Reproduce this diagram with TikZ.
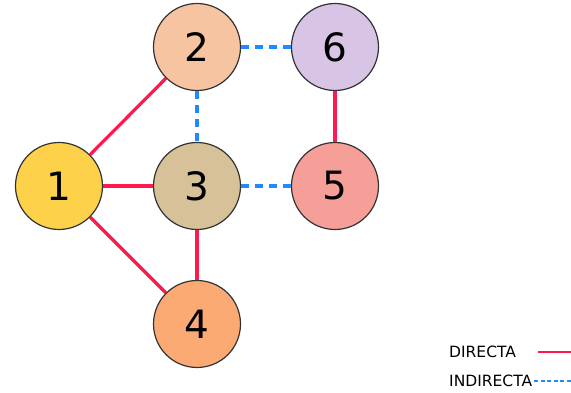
\documentclass[tikz,border=0pt]{standalone}
\usepackage{fontspec}
\setmainfont{DejaVu Sans}
\begin{document}
\begin{tikzpicture}[x=1pt,y=-1pt,
  vert/.style={circle,draw=black!80,line width=1.2pt,minimum size=87pt,inner sep=0pt,font=\fontsize{39}{40}\selectfont},
  dir/.style={draw=dirc,line width=3.2pt},
  ind/.style={draw=indc,line width=3.2pt,dash pattern=on 8pt off 6pt},
  leg/.style={font=\fontsize{15.5}{16}\selectfont,anchor=west,inner sep=0pt}]
\definecolor{dirc}{HTML}{FF1A4E}
\definecolor{indc}{HTML}{1E8CFF}
\useasboundingbox (0,0) rectangle (571,393);
\node[vert,fill={rgb,255:red,253;green,209;blue,74}] (n1) at (59,186) {1};
\node[vert,fill={rgb,255:red,247;green,196;blue,161}] (n2) at (197,47) {2};
\node[vert,fill={rgb,255:red,216;green,196;blue,228}] (n6) at (335,47) {6};
\node[vert,fill={rgb,255:red,214;green,193;blue,152}] (n3) at (197,186) {3};
\node[vert,fill={rgb,255:red,246;green,159;blue,153}] (n5) at (335,186) {5};
\node[vert,fill={rgb,255:red,251;green,170;blue,115}] (n4) at (197,324) {4};
\path[dir] (n1) -- (n2);
\path[dir,line width=3.8pt] (n1) -- (n3);
\path[dir] (n1) -- (n4);
\path[dir] (n3) -- (n4);
\path[dir] (n6) -- (n5);
\path[ind] (n2) -- (n6);
\path[ind] (n2) -- (n3);
\path[ind] (n3) -- (n5);
\node[leg] (l1) at (449,352) {DIRECTA};
\node[leg] (l2) at (449,381) {INDIRECTA};
\coordinate (d1a) at (538,352);
\coordinate (d1b) at (571,352);
\coordinate (d2b) at (571,381);
\path[dir,line width=2.2pt] (d1a) -- (d1b);
\path[ind,line width=2.2pt,dash pattern=on 4pt off 2.5pt] ([xshift=2pt]l2.east) -- (d2b);
\end{tikzpicture}
\end{document}
